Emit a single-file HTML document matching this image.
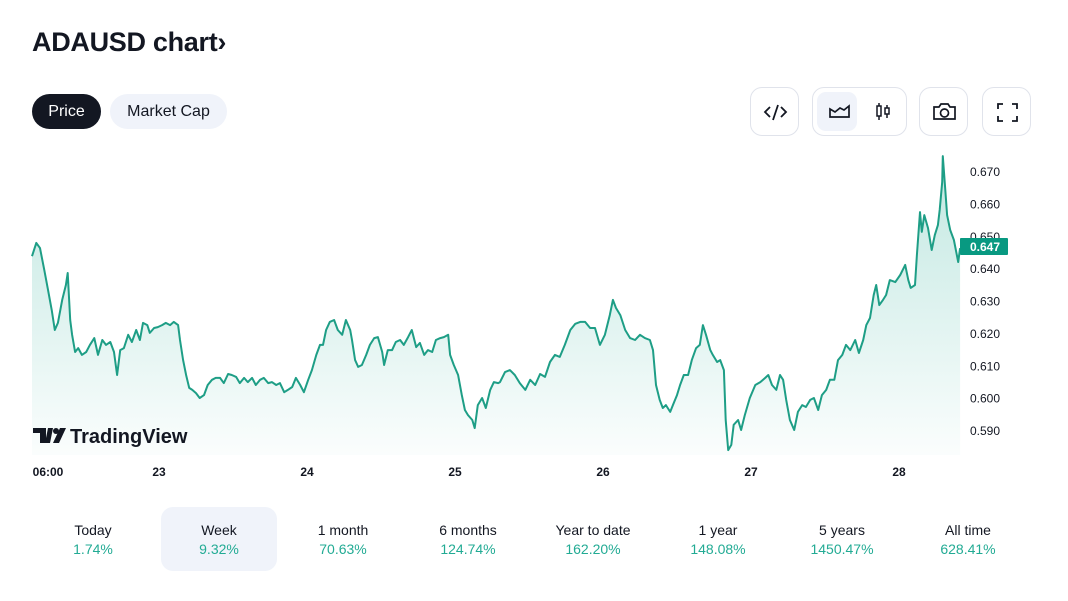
<!DOCTYPE html>
<html><head><meta charset="utf-8">
<style>
*{box-sizing:border-box;margin:0;padding:0}
body{width:1068px;height:601px;background:#fff;font-family:"Liberation Sans","DejaVu Sans",sans-serif;color:#131722;position:relative;overflow:hidden}
.abs{position:absolute}
.title{left:32px;top:27px;font-size:27px;font-weight:bold;letter-spacing:-0.3px}
.pill{top:94px;height:35px;border-radius:18px;font-size:16px;line-height:35px;text-align:center}
.ibtn{top:87px;height:49px;border:1px solid #e0e3eb;border-radius:12px;background:#fff}
.tab{top:507px;width:116px;height:64px;border-radius:12px;text-align:center;font-size:14px}
.tab .n{margin-top:15px;color:#131722}
.tab .p{margin-top:3px;color:#22ab94}
</style></head><body>
<div class="abs title">ADAUSD chart›</div>
<div class="abs pill" style="left:32px;width:69px;background:#131722;color:#fff">Price</div>
<div class="abs pill" style="left:110px;width:117px;background:#f0f3fa;color:#131722">Market Cap</div>

<div class="abs ibtn" style="left:750px;width:49px">
<svg width="49" height="49" viewBox="0 0 49 49"><path d="M19 19l-5 5 5 5M30 19l5 5-5 5M27 17l-5 15" fill="none" stroke="#131722" stroke-width="1.8"/></svg></div>
<div class="abs ibtn" style="left:812px;width:95px">
<div class="abs" style="left:4px;top:4px;width:40px;height:39px;border-radius:9px;background:#f0f3fa">
<svg width="40" height="39"><path d="M13 25v-8l5 3 5-4 4 2 5-4v11z" fill="none" stroke="#131722" stroke-width="1.7"/></svg></div>
<div class="abs" style="left:50px;top:4px;width:40px;height:39px">
<svg width="40" height="39"><path d="M16 11v17M24 13v13" stroke="#131722" stroke-width="1.5"/><rect x="14" y="14" width="4" height="10" fill="#fff" stroke="#131722" stroke-width="1.5"/><rect x="22" y="16" width="4" height="6" fill="#fff" stroke="#131722" stroke-width="1.5"/></svg></div>
</div>
<div class="abs ibtn" style="left:919px;width:49px">
<svg width="49" height="49"><path d="M14 19h5l2-3h7l2 3h5v12H14z" fill="none" stroke="#131722" stroke-width="1.7"/><circle cx="24.5" cy="25" r="4" fill="none" stroke="#131722" stroke-width="1.7"/></svg></div>
<div class="abs ibtn" style="left:982px;width:49px">
<svg width="49" height="49"><path d="M15 21v-5h5M29 16h5v5M34 28v5h-5M20 33h-5v-5" fill="none" stroke="#131722" stroke-width="1.8"/></svg></div>

<svg id="chart" class="abs" style="left:0;top:140px" width="1068" height="350" viewBox="0 140 1068 350">
<defs><linearGradient id="g" x1="0" y1="0" x2="0" y2="1"><stop offset="0" stop-color="#22ab94" stop-opacity="0.28"/><stop offset="1" stop-color="#22ab94" stop-opacity="0.02"/></linearGradient></defs>
<g id="area"></g><g id="yt"></g><g id="xt"></g>
<g>
<path d="M33 428h13v15h-6v-10h-7zM48 428h5l-3 15h-5z" fill="#131722"/><circle cx="56" cy="431" r="3" fill="#131722"/><path d="M60 428h6l-7 15h-6z" fill="#131722"/>
<text x="70" y="443" font-size="20" font-weight="bold" fill="#131722" font-family="Liberation Sans, sans-serif">TradingView</text></g>
</svg>

<div class="abs tab" style="left:35px"><div class="n">Today</div><div class="p">1.74%</div></div>
<div class="abs tab" style="left:161px;background:#f0f3fa"><div class="n">Week</div><div class="p">9.32%</div></div>
<div class="abs tab" style="left:285px"><div class="n">1 month</div><div class="p">70.63%</div></div>
<div class="abs tab" style="left:410px"><div class="n">6 months</div><div class="p">124.74%</div></div>
<div class="abs tab" style="left:535px"><div class="n">Year to date</div><div class="p">162.20%</div></div>
<div class="abs tab" style="left:660px"><div class="n">1 year</div><div class="p">148.08%</div></div>
<div class="abs tab" style="left:784px"><div class="n">5 years</div><div class="p">1450.47%</div></div>
<div class="abs tab" style="left:910px"><div class="n">All time</div><div class="p">628.41%</div></div>

<script>
// hours since 22 Jun 00:00
const hours=[3.4,4.1,4.7,5.4,6.0,6.6,7.1,7.6,8.3,8.9,9.2,9.6,9.9,10.4,10.9,11.5,12.2,12.8,13.5,14.1,14.8,15.4,16.1,16.7,17.2,17.7,18.3,19.0,19.6,20.3,20.9,21.4,22.1,22.5,23.2,23.8,24.5,25.1,25.8,26.4,27.1,27.4,27.9,28.4,28.9,29.4,30.0,30.6,31.3,31.9,32.6,33.2,33.9,34.5,35.2,35.8,36.5,37.1,37.8,38.4,39.1,39.7,40.4,41.0,41.7,42.3,43.0,43.6,44.3,44.9,45.6,46.2,46.9,47.5,48.2,48.8,49.5,50.1,50.6,51.1,51.7,52.4,53.0,53.7,54.3,55.0,55.3,55.8,56.3,56.9,57.6,58.2,58.9,59.5,60.2,60.5,61.1,61.8,62.4,63.1,63.7,64.4,65.0,65.7,66.3,67.0,67.6,68.3,68.9,69.6,70.2,70.9,71.2,71.8,72.5,73.1,73.6,74.1,74.8,75.2,75.7,76.4,77.0,77.7,78.3,79.0,
79.3,80.1,80.9,81.7,82.5,83.4,84.2,85.0,85.8,86.6,87.4,88.2,89.0,89.8,90.7,91.5,92.3,93.1,93.9,94.7,95.5,96.3,97.1,97.6,98.1,98.8,99.6,100.4,101.2,102.0,102.8,103.6,104.1,104.6,105.2,105.7,106.2,106.9,107.4,108.0,108.5,109.1,109.8,110.4,111.1,111.7,112.2,112.7,113.4,113.8,114.5,115.0,115.6,115.9,116.3,116.8,117.2,117.9,118.4,119.0,119.8,120.7,121.5,122.3,122.8,123.4,124.1,124.7,125.2,125.7,126.3,127.0,127.6,128.3,128.9,129.6,130.2,130.9,131.5,132.2,132.8,133.5,134.1,134.8,135.4,136.1,136.9,137.5,138.2,138.7,139.3,139.9,140.3,140.8,141.4,141.9,142.5,143.4,144.2,145.0,145.5,145.9,146.6,146.9,147.4,147.7,148.1,148.7,149.3,149.8,150.3,150.6,151.0,151.1,151.5,151.8,152.3,152.9,153.6,153.9];
const prices=[.6440,.6481,.6465,.6397,.6336,.6274,.6212,.6234,.6305,.6351,.6388,.6243,.6197,.6144,.6156,.6135,.6144,.6166,.6187,.6135,.6181,.6166,.6175,.6144,.6073,.6150,.6156,.6197,.6175,.6212,.6181,.6234,.6227,.6203,.6218,.6221,.6227,.6234,.6227,.6237,.6227,.6181,.6119,.6073,.6033,.6027,.6017,.6002,.6011,.6042,.6058,.6064,.6064,.6048,.6076,.6073,.6067,.6048,.6064,.6051,.6064,.6042,.6058,.6064,.6048,.6051,.6042,.6048,.6020,.6027,.6036,.6064,.6042,.6020,.6058,.6088,.6135,.6166,.6166,.6212,.6237,.6243,.6212,.6197,.6243,.6212,.6181,.6119,.6098,.6104,.6135,.6166,.6187,.6190,.6144,.6104,.6150,.6150,.6175,.6181,.6166,.6190,.6212,.6159,.6172,.6135,.6150,.6144,.6181,.6187,.6190,.6197,.6135,.6104,.6073,.6011,.5965,.5949,.5934,.5909,.5980,.6002,.5971,.6027,.6051,.6048,
.6051,.6082,.6088,.6073,.6048,.6027,.6058,.6042,.6076,.6067,.6113,.6135,.6129,.6166,.6212,.6231,.6237,.6237,.6218,.6218,.6166,.6197,.6258,.6305,.6280,.6258,.6212,.6187,.6181,.6197,.6187,.6181,.6150,.6042,.5996,.5971,.5980,.5959,.5983,.6011,.6042,.6073,.6073,.6119,.6156,.6166,.6227,.6197,.6150,.6135,.6113,.6119,.6088,.5934,.5841,.5857,.5919,.5934,.5903,.5949,.6002,.6042,.6051,.6064,.6073,.6042,.6027,.6073,.6058,.5996,.5934,.5903,.5959,.5980,.5974,.5996,.6002,.5965,.6011,.6027,.6058,.6058,.6119,.6135,.6166,.6150,.6181,.6141,.6181,.6227,.6249,.6320,.6351,.6289,.6305,.6320,.6366,.6360,.6382,.6413,.6366,.6342,.6351,.6444,.6576,.6515,.6567,.6527,.6459,.6505,.6536,.6583,.6669,.6749,.6644,.6567,.6521,.6490,.6422,.6465];
const yTicks=[0.590,0.600,0.610,0.620,0.630,0.640,0.650,0.660,0.670];
const xTickHours=[6,24,48,72,96,120,144];
const xTickLabels=["06:00","23","24","25","26","27","28"];
const lastPrice=0.647;

const NS="http://www.w3.org/2000/svg";
const X=h=>11+h*6.1667;
const Y=v=>172+(0.670-v)*3237.5;
const bottom=455;
function mk(t,a,p){const e=document.createElementNS(NS,t);for(const k in a)e.setAttribute(k,a[k]);p.appendChild(e);return e;}
const n=Math.min(hours.length,prices.length);
let d="";
for(let i=0;i<n;i++)d+=(i?"L":"M")+X(hours[i]).toFixed(1)+" "+Y(prices[i]).toFixed(1);
const areaG=document.getElementById("area");
const fill=mk("path",{d:d+"L"+X(hours[n-1]).toFixed(1)+" "+bottom+"L"+X(hours[0]).toFixed(1)+" "+bottom+"Z",fill:"url(#g)"},areaG);


const line=mk("path",{d:d,fill:"none",stroke:"#1e9e86","stroke-width":2,"stroke-linejoin":"round"},areaG);


const yt=document.getElementById("yt");
yTicks.forEach(v=>{const t=mk("text",{x:970,y:Y(v)+4,"font-size":12,fill:"#131722"},yt);t.textContent=v.toFixed(3);

});
const ly=Y(lastPrice);
const tag=mk("rect",{x:960,y:ly-8.5,width:48,height:17,fill:"#089981",rx:1},yt);


const tt=mk("text",{x:970,y:ly+4.5,"font-size":12,fill:"#fff","font-weight":"bold"},yt);tt.textContent=lastPrice.toFixed(3);


const xt=document.getElementById("xt");
xTickHours.forEach((h,i)=>{const t=mk("text",{x:X(h),y:476,"font-size":12,"font-weight":"bold",fill:"#131722","text-anchor":"middle"},xt);t.textContent=xTickLabels[i];

});
</script>
</body></html>
